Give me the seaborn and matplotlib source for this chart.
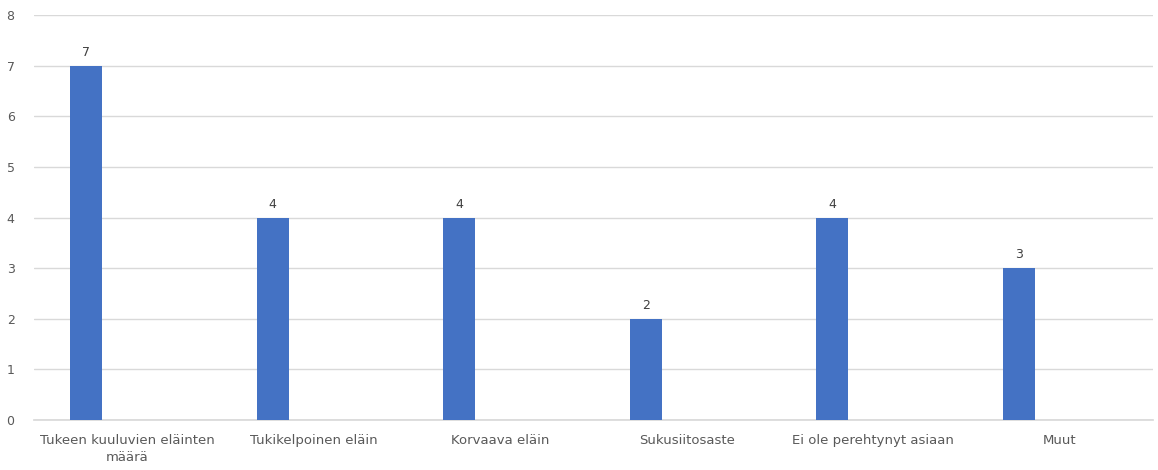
import numpy as np
import pandas as pd
import matplotlib
matplotlib.use("Agg")
import matplotlib.pyplot as plt
import seaborn as sns

# Chart data
categories = [
    "Tukeen kuuluvien eläinten\nmäärä",
    "Tukikelpoinen eläin",
    "Korvaava eläin",
    "Sukusiitosaste",
    "Ei ole perehtynyt asiaan",
    "Muut",
]
values = [7, 4, 4, 2, 4, 3]
y_ticks = [0, 1, 2, 3, 4, 5, 6, 7, 8]

sns.set_theme(style="white")
plt.rcParams["font.family"] = ["DejaVu Sans"]

# Excel-style layout: bar sits left of the category centre (empty second series)
bar_offset = -0.22
bar_width = 0.172
idx = np.arange(len(categories))
df = pd.DataFrame({"pos": idx + bar_offset, "value": values})

fig = plt.figure(figsize=(11.58, 4.70), dpi=100)
ax = fig.add_axes([0.0294, 0.1064, 0.9663, 0.8616])

sns.barplot(data=df, x="pos", y="value", native_scale=True, width=bar_width,
            color="#4472C4", saturation=1, linewidth=0, ax=ax, zorder=3)

for p, v in zip(ax.patches, values):
    ax.annotate(f"{v}", (p.get_x() + p.get_width() / 2, p.get_height()),
                xytext=(0, 5), textcoords="offset points", ha="center", va="bottom",
                fontsize=9, color="#404040")

ax.set_xlim(-0.5, len(categories) - 0.5)
ax.set_ylim(0, 8)
ax.set_xticks(idx)
ax.set_xticklabels(categories, fontsize=9.5, color="#595959", linespacing=1.4)
ax.set_yticks(y_ticks)
ax.set_yticklabels([str(t) for t in y_ticks], fontsize=9, color="#595959")
ax.tick_params(axis="both", length=0)
ax.tick_params(axis="x", pad=10)
ax.tick_params(axis="y", pad=14)
ax.grid(axis="y", color="#d9d9d9", linewidth=1, zorder=0)
ax.set_xlabel("")
ax.set_ylabel("")
for side in ["top", "right", "left"]:
    ax.spines[side].set_visible(False)
ax.spines["bottom"].set_color("#d9d9d9")

fig.savefig("out.png", dpi=100)
plt.close(fig)
